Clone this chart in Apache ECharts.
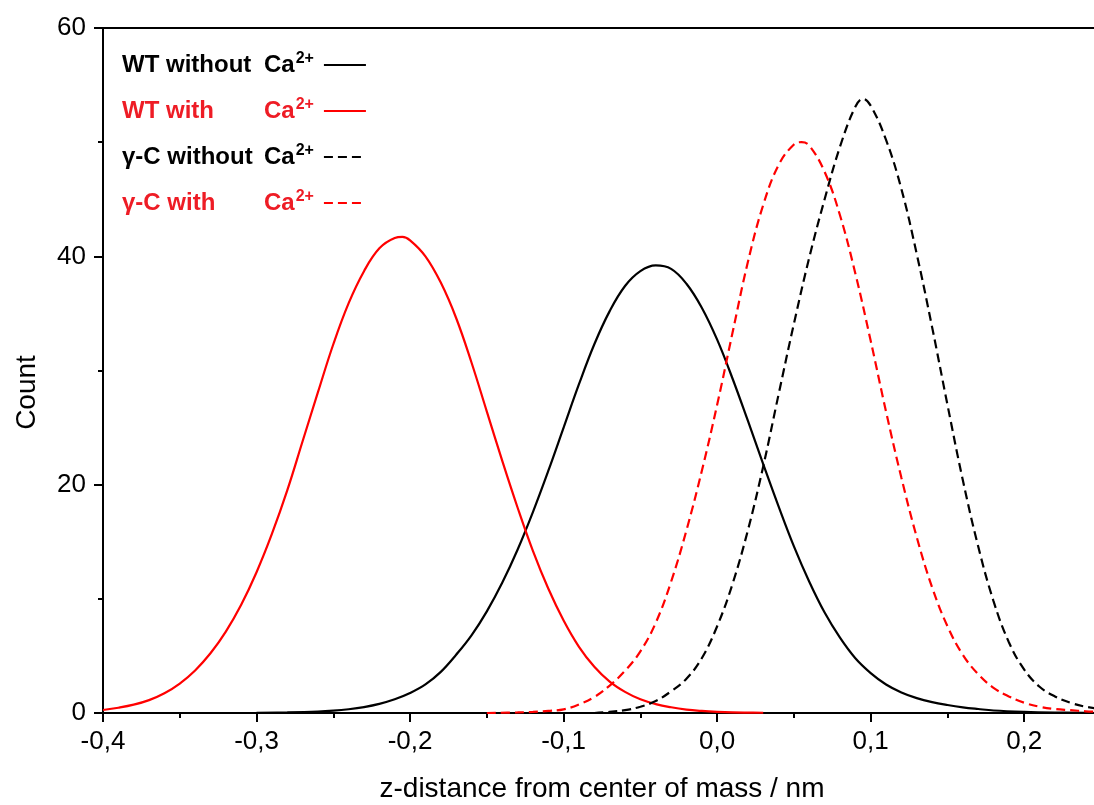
<!DOCTYPE html>
<html>
<head>
<meta charset="utf-8">
<script src="https://cdn.jsdelivr.net/npm/echarts@6/dist/echarts.min.js"></script>
<style>html,body{margin:0;padding:0;background:#fff;}#c{width:1094px;height:805px;}</style>
</head>
<body>
<div id="c"></div>
<script>
// ---- data ----
const seriesNames = ['WT without Ca2+', 'WT with Ca2+', 'γ-C without Ca2+', 'γ-C with Ca2+'];
const legendPrefix = ['WT without ', 'WT with', 'γ-C without ', 'γ-C with'];

const wtWithoutX = [-0.30,-0.28,-0.26,-0.25,-0.24,-0.23,-0.22,-0.21,-0.20,-0.19,-0.18,-0.17,-0.16,-0.15,-0.14,-0.13,-0.12,-0.11,-0.10,-0.09,-0.08,-0.07,-0.06,-0.05,-0.04,-0.03,-0.02,-0.01,0.00,0.01,0.02,0.03,0.04,0.05,0.06,0.07,0.08,0.09,0.10,0.11,0.12,0.13,0.14,0.15,0.16,0.17,0.18,0.20,0.22,0.24];
const wtWithoutY = [0.02,0.05,0.12,0.2,0.33,0.52,0.8,1.2,1.75,2.5,3.6,5.1,6.8,8.9,11.4,14.3,17.6,21.2,25.0,28.8,32.3,35.2,37.4,38.7,39.2,38.9,37.6,35.5,32.7,29.3,25.6,21.8,18.1,14.6,11.5,8.8,6.6,4.8,3.5,2.5,1.8,1.3,0.95,0.7,0.5,0.35,0.22,0.1,0.04,0.02];

const wtWithX = [-0.40,-0.39,-0.38,-0.37,-0.36,-0.35,-0.34,-0.33,-0.32,-0.31,-0.30,-0.29,-0.28,-0.27,-0.26,-0.25,-0.24,-0.23,-0.22,-0.21,-0.205,-0.20,-0.19,-0.18,-0.17,-0.16,-0.15,-0.14,-0.13,-0.12,-0.11,-0.10,-0.09,-0.08,-0.07,-0.06,-0.05,-0.04,-0.03,-0.02,-0.01,0.00,0.01,0.02,0.03];
const wtWithY = [0.26,0.46,0.73,1.13,1.73,2.58,3.73,5.23,7.13,9.48,12.33,15.68,19.5,23.8,28.1,32.3,35.9,38.7,40.7,41.6,41.7,41.4,40.0,37.7,34.6,30.7,26.4,22.1,18.0,14.2,10.9,8.1,5.8,4.05,2.75,1.85,1.2,0.78,0.5,0.3,0.18,0.1,0.05,0.03,0.02];

const gcWithoutX = [-0.08,-0.07,-0.06,-0.05,-0.04,-0.03,-0.02,-0.01,0.00,0.01,0.02,0.03,0.04,0.05,0.06,0.07,0.08,0.09,0.095,0.10,0.11,0.12,0.13,0.14,0.15,0.16,0.17,0.18,0.19,0.20,0.21,0.22,0.23,0.24,0.25];
const gcWithoutY = [0.0,0.1,0.25,0.55,1.05,1.9,3.0,4.8,7.6,11.3,16.0,21.6,27.9,34.1,39.9,45.0,49.6,53.1,53.8,53.2,50.2,45.9,40.2,33.8,27.0,20.4,14.6,9.8,6.2,3.8,2.3,1.45,0.9,0.55,0.35];

const gcWithX = [-0.15,-0.13,-0.12,-0.11,-0.10,-0.09,-0.08,-0.07,-0.06,-0.05,-0.04,-0.03,-0.02,-0.01,0.00,0.01,0.02,0.03,0.04,0.05,0.055,0.06,0.07,0.08,0.09,0.10,0.11,0.12,0.13,0.14,0.15,0.16,0.17,0.18,0.19,0.20,0.21,0.22,0.23,0.24,0.25];
const gcWithY = [0.0,0.05,0.1,0.18,0.32,0.75,1.4,2.4,3.7,5.4,7.9,11.5,16.0,21.2,27.0,33.3,39.5,44.5,48.0,49.8,50.0,49.7,47.4,43.6,38.5,32.6,26.4,20.6,15.4,11.0,7.6,5.1,3.4,2.2,1.45,0.9,0.55,0.35,0.25,0.15,0.1];

const xTickLabels = ['-0,4','-0,3','-0,2','-0,1','0,0','0,1','0,2'];
const xTickValues = [-0.4,-0.3,-0.2,-0.1,0.0,0.1,0.2];
const yTickLabels = ['0','20','40','60'];

// ---- chart ----
const zip = (xs, ys) => xs.map((x, i) => [x, ys[i]]);
const FONT = 'Liberation Sans, Arial, sans-serif';
const RED = '#ff0000';
const LRED = '#ee1c25';

// measure legend prefixes so that "Ca" lines up in a column
const mctx = document.createElement('canvas').getContext('2d');
mctx.font = 'bold 24px Liberation Sans, Arial, sans-serif';
const PREFIX_W = 142;
const padFor = (s) => Math.max(0, PREFIX_W - mctx.measureText(s).width);

const SOLID_ICON = 'path://M0,0H42V2H0Z';
const DASH_ICON = 'path://M0,0H8V2H0Z M13,0H21V2H13Z M26,0H34V2H26Z M39,0H42V2H39Z';

const chart = echarts.init(document.getElementById('c'), null, {renderer: 'canvas'});

function mk(name, xs, ys, color, dashed) {
  return {
    name: name, type: 'line', data: zip(xs, ys),
    showSymbol: false, symbol: 'none', smooth: 0.4,
    legendIcon: dashed ? DASH_ICON : SOLID_ICON,
    lineStyle: {color: color, width: 2.2, type: dashed ? [9, 5] : 'solid'},
    itemStyle: {color: color},
    animation: false, z: 3
  };
}

const tok = (c, extra) => Object.assign({color: c, fontFamily: FONT, fontWeight: 'bold', fontSize: 24, lineHeight: 28}, extra || {});
const rich = {};
['b', 'r'].forEach(k => {
  const c = k === 'b' ? '#000' : LRED;
  legendPrefix.forEach((p, i) => { rich[k + 't' + i] = tok(c, {padding: [0, padFor(p), 0, 0]}); });
  rich[k + 'c'] = tok(c);
  rich[k + 's'] = tok(c, {fontSize: 16, lineHeight: 16, verticalAlign: 'top', padding: [0, 5, 0, 1]});
});

chart.setOption({
  animation: false,
  backgroundColor: '#fff',
  grid: {left: 103, right: -7, top: 28, bottom: 92, show: true, borderColor: '#000', borderWidth: 2,
         containLabel: false, outerBoundsMode: 'none'},
  legend: {
    data: seriesNames,
    orient: 'vertical', left: 117, top: 46,
    align: 'right', itemWidth: 42, itemHeight: 2, itemGap: 20,
    selectedMode: false,
    formatter: function (name) {
      const i = seriesNames.indexOf(name);
      const k = (i % 2 === 0) ? 'b' : 'r';
      return '{' + k + 't' + i + '|' + legendPrefix[i] + '}{' + k + 'c|Ca}{' + k + 's|2+}';
    },
    textStyle: {fontFamily: FONT, fontSize: 24, fontWeight: 'bold', rich: rich}
  },
  xAxis: {
    type: 'value', min: -0.4, max: 0.25, interval: 0.1,
    name: 'z-distance from center of mass / nm', nameLocation: 'middle', nameGap: 62,
    nameTextStyle: {fontFamily: FONT, fontSize: 28, color: '#000'},
    axisLine: {show: true, onZero: false, lineStyle: {color: '#000', width: 2}},
    axisTick: {show: true, length: 9, lineStyle: {color: '#000', width: 2}},
    minorTick: {show: true, splitNumber: 2, length: 5, lineStyle: {color: '#000', width: 2}},
    splitLine: {show: false},
    axisLabel: {
      fontFamily: FONT, fontSize: 26, color: '#000', margin: 16,
      showMaxLabel: false,
      formatter: function (v) {
        for (let i = 0; i < xTickValues.length; i++) {
          if (Math.abs(v - xTickValues[i]) < 1e-6) return xTickLabels[i];
        }
        return '';
      }
    }
  },
  yAxis: {
    type: 'value', min: 0, max: 60, interval: 20,
    name: 'Count', nameLocation: 'middle', nameGap: 62,
    nameTextStyle: {fontFamily: FONT, fontSize: 28, color: '#000', padding: [0, 44, 0, 0]},
    axisLine: {show: true, onZero: false, lineStyle: {color: '#000', width: 2}},
    axisTick: {show: true, length: 9, lineStyle: {color: '#000', width: 2}},
    minorTick: {show: true, splitNumber: 2, length: 5, lineStyle: {color: '#000', width: 2}},
    splitLine: {show: false},
    axisLabel: {
      fontFamily: FONT, fontSize: 26, color: '#000', margin: 17,
      formatter: function (v) { const i = Math.round(v / 20); return yTickLabels[i] !== undefined ? yTickLabels[i] : ''; }
    }
  },
  series: [
    mk(seriesNames[0], wtWithoutX, wtWithoutY, '#000', false),
    mk(seriesNames[1], wtWithX, wtWithY, RED, false),
    mk(seriesNames[2], gcWithoutX, gcWithoutY, '#000', true),
    mk(seriesNames[3], gcWithX, gcWithY, RED, true)
  ]
});
</script>
</body>
</html>
